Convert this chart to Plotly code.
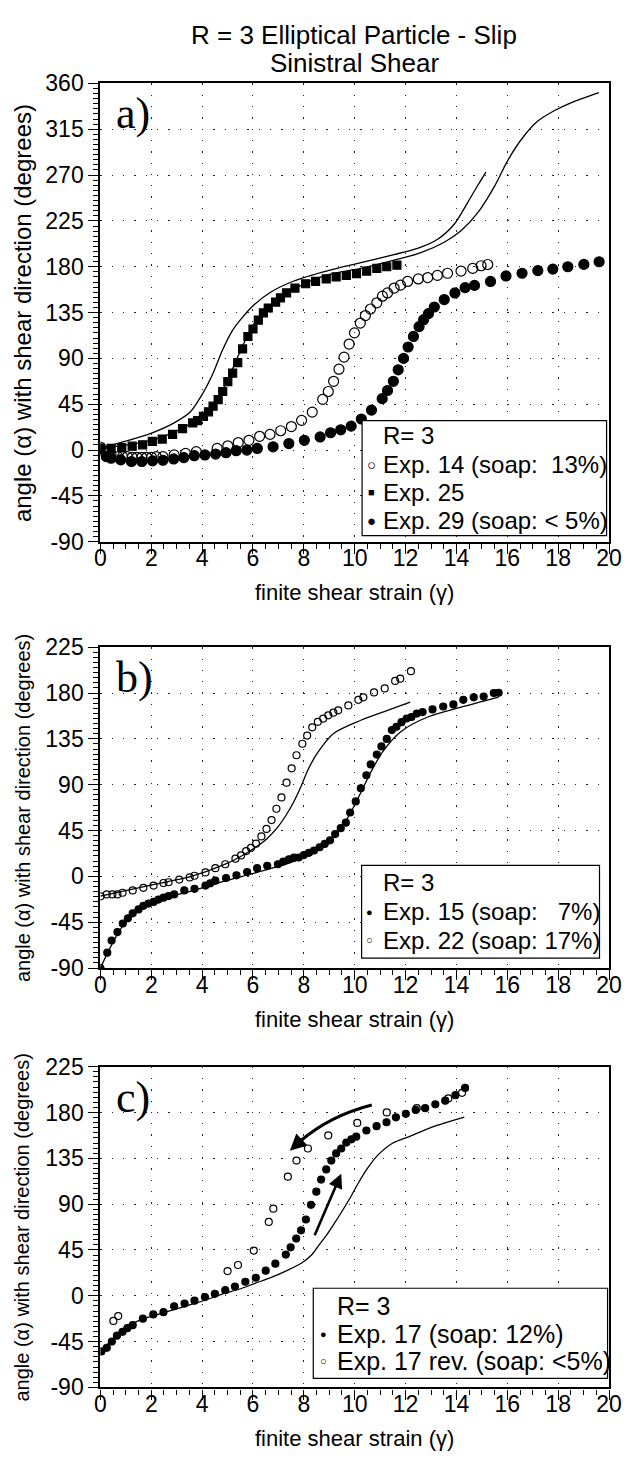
import plotly.graph_objects as go

W, H = 639, 1463

# ---------------- panel a: R = 3, sinistral shear ----------------
a_exp14_g = [0.0, 0.2, 0.42, 0.68, 0.87, 1.06, 1.25, 1.44, 1.63, 1.82, 2.01, 2.2, 2.46, 2.9, 3.35, 3.77,
             4.59, 5.01, 5.42, 5.84, 6.26, 6.67, 7.09, 7.51, 7.91, 8.33, 8.74, 8.96, 9.17, 9.38, 9.58,
             9.78, 9.99, 10.22, 10.42, 10.62, 10.87, 11.09, 11.29, 11.55, 11.8, 12.08, 12.5, 12.87,
             13.25, 13.65, 14.18, 14.64, 14.97, 15.23]
a_exp14_ang = [3, -3, -4.8, -6.4, -6.4, -6.4, -7.1, -7.1, -7.1, -7.1, -7.1, -6.4, -6.4, -4.8, -3.2, -1.6,
               1.6, 4.2, 7.4, 9.6, 13.5, 15.4, 19.0, 23.1, 29.2, 37.3, 49.8, 57.5, 67.5, 79.4, 91.3,
               104.1, 115.1, 124.7, 132.1, 138.5, 144.6, 151.1, 154.3, 159.1, 162, 165.6, 168, 169.4,
               171.5, 173.6, 175.8, 178.4, 181, 182.2]

a_exp25_g = [0.0, 0.42, 0.84, 1.25, 1.66, 2.04, 2.43, 2.84, 3.23, 3.63, 3.82, 4.05, 4.25, 4.43, 4.63,
             4.81, 5.01, 5.2, 5.4, 5.59, 5.8, 6.0, 6.21, 6.41, 6.6, 6.89, 7.08, 7.32, 7.65, 8.07, 8.46,
             8.88, 9.27, 9.67, 10.07, 10.47, 10.87, 11.26, 11.66]
a_exp25_ang = [1.0, 1.6, 2.4, 3.8, 5.2, 8.5, 10.8, 15.4, 21.0, 26.7, 28.9, 33.1, 37.6, 43.1, 49.5,
               57.5, 67.2, 75.5, 85.8, 99.3, 111.5, 118.9, 127.6, 134.7, 139.5, 145.3, 149.5, 154.3,
               159.1, 163.3, 165.6, 168.1, 170, 171.4, 173.3, 175.8, 178.4, 180, 181.6]

a_exp29_g = [0.0, 0.23, 0.42, 0.8, 1.22, 1.63, 2.05, 2.46, 2.88, 3.28, 3.69, 4.11, 4.53, 4.94, 5.34,
             5.76, 6.17, 6.79, 7.41, 8.02, 8.64, 9.05, 9.45, 9.86, 10.26, 10.66, 11.08, 11.29, 11.52,
             11.71, 11.92, 12.1, 12.31, 12.53, 12.71, 12.9, 13.13, 13.52, 13.94, 14.34, 14.71, 15.34,
             15.95, 16.58, 17.2, 17.79, 18.38, 19.01, 19.61]
a_exp29_ang = [1.5, -6.4, -8.0, -9.6, -11.2, -11.2, -10.6, -10.0, -8.7, -7.4, -5.5, -4.8, -3.9, -2.6,
               -0.6, 0.0, 1.6, 3.2, 6.4, 9.6, 12.9, 17.0, 19.9, 23.5, 30.5, 39.2, 50.5, 58.5, 67.5,
               78.8, 90.0, 101.2, 111.6, 121.2, 128.0, 134.0, 140.5, 147.8, 154.3, 159.5, 161.7, 165.6,
               171.0, 173.6, 176.2, 177.7, 180.0, 182.3, 184.9]

a_model1_g = [0, 0.99, 2.01, 2.9, 3.54, 3.98, 4.43, 4.81, 5.19, 5.51, 5.97, 6.69, 7.61, 8.92, 10.24,
              11.55, 12.47, 13.26, 13.92, 14.44, 14.84, 15.16]
a_model1_ang = [2, 8.7, 16.7, 26.7, 37.6, 53.7, 75.5, 98.7, 117.3, 128, 141, 155, 166, 176, 184, 192,
                198, 207, 222, 243, 260, 273]

a_model2_g = [0, 0.99, 2.01, 2.9, 3.54, 4.05, 4.43, 4.75, 5.06, 5.32, 5.57, 5.83, 6.08, 6.4, 6.65, 7.61,
              8.92, 10.24, 11.55, 12.6, 13.52, 14.18, 14.84, 15.49, 16.02, 16.61, 17.2, 17.86, 18.5, 19.6]
a_model2_ang = [1.6, 4.8, 9.6, 17.7, 25.7, 34.4, 43.4, 56.2, 72.3, 86.8, 101.2, 114.1, 125.3, 135.0,
                141, 158, 171.9, 178.4, 186.4, 193.8, 204.1, 215.3, 233.1, 258.7, 284.5, 306.9, 323,
                333.4, 341, 351]

# ---------------- panel b ----------------
b_exp15_g = [0.0, 0.27, 0.44, 0.67, 0.88, 1.08, 1.27, 1.5, 1.69, 1.89, 2.09, 2.28, 2.48, 2.68, 2.9, 3.3,
             3.7, 4.13, 4.32, 4.52, 4.94, 5.35, 5.77, 6.16, 6.56, 6.98, 7.19, 7.41, 7.61, 7.8, 8.0, 8.2,
             8.4, 8.62, 8.82, 9.03, 9.23, 9.45, 9.65, 9.82, 10.04, 10.24, 10.46, 10.63, 10.87, 11.05,
             11.26, 11.46, 11.64, 11.84, 12.04, 12.23, 12.44, 12.67, 13.06, 13.48, 13.88, 14.27, 14.68,
             15.07, 15.47, 15.66]
b_exp15_ang = [-90, -74.9, -63, -54.7, -46.3, -41.2, -36.3, -32.5, -28.9, -26.7, -25.1, -22.8, -20.9,
               -19.3, -17.7, -13.8, -12.2, -9.0, -6.8, -4.2, -1.6, 1.0, 4.2, 8.0, 10.3, 11.9, 14.5,
               16.7, 18.3, 18.5, 20.9, 23.1, 25.4, 28.6, 31.8, 35.4, 41.5, 47.3, 52.7, 62.7, 73.6, 86.5,
               99.3, 109.9, 119.6, 127.6, 135, 143.7, 146.9, 151.4, 155, 156.5, 159.8, 161.3, 163.9,
               166.8, 168.8, 173.3, 175.8, 176.5, 180, 180.3]

b_exp22_g = [0.01, 0.25, 0.47, 0.67, 0.87, 1.27, 1.69, 2.09, 2.48, 2.68, 3.1, 3.51, 3.7, 4.13, 4.52,
             4.91, 5.31, 5.53, 5.73, 5.92, 6.12, 6.33, 6.53, 6.73, 6.92, 7.12, 7.32, 7.52, 7.71, 7.94,
             8.13, 8.33, 8.55, 8.76, 8.96, 9.16, 9.35, 9.75, 10.14, 10.34, 10.76, 11.18, 11.59, 11.79,
             12.21]
b_exp22_ang = [-19.6, -17.7, -17.7, -17.7, -16.1, -13.8, -11.3, -9.0, -6.5, -5.8, -3.2, -1.0, 0.6, 3.9,
               8.0, 11.9, 17.4, 20.6, 24.8, 28, 32.1, 39.2, 46.6, 55.3, 66.4, 77.5, 92, 106.1, 118.9,
               130.2, 138.2, 146.3, 151.7, 154.9, 158.1, 160.7, 163, 167.8, 173.3, 175.8, 180.6, 184.5,
               191.9, 194.1, 201.5]

b_model1_g = [0, 0.9, 2.21, 3.53, 4.84, 5.5, 6.16, 6.55, 6.94, 7.3, 7.6, 7.9, 8.15, 8.53, 9.18, 10.24,
              11.29, 12.18]
b_model1_ang = [-19.3, -14.5, -7.4, -0.3, 11.3, 19.3, 29.6, 37, 47.3, 60, 73, 89, 104, 121, 140.5,
                153.3, 163, 171]

b_model2_g = [0, 0.35, 0.7, 1.06, 1.58, 2.21, 3.53, 4.84, 6.16, 7.47, 8.26, 8.79, 9.31, 9.71, 10.1,
              10.37, 10.69, 11.16, 11.81, 12.87, 14.18, 15.66]
b_model2_ang = [-90, -71.7, -55.6, -42.7, -31.5, -23.5, -14.8, -4.8, 3.9, 13.5, 21.5, 29.6, 44.1, 57,
                75, 89, 105.1, 124.4, 142.1, 156.5, 166.1, 176]

# ---------------- panel c ----------------
c_exp17_g = [0.04, 0.25, 0.45, 0.65, 0.87, 1.06, 1.27, 1.67, 2.08, 2.48, 2.9, 3.31, 3.7, 4.11, 4.5,
             4.91, 5.29, 5.7, 6.11, 6.5, 6.88, 7.29, 7.48, 7.7, 7.89, 8.08, 8.28, 8.49, 8.68, 8.88,
             9.08, 9.27, 9.47, 9.67, 9.87, 10.06, 10.46, 10.86, 11.25, 11.62, 12.01, 12.4, 12.77,
             13.17, 13.56, 13.96, 14.34]
c_exp17_ang = [-54.6, -51.1, -45, -39.2, -35.4, -31.8, -28.9, -22.5, -18.3, -16.1, -10.3, -7.7, -4.8,
               -1.3, 1.9, 5.5, 9.0, 13.8, 17.7, 24.7, 31.5, 40.5, 47.6, 56.2, 64.3, 74.9, 89.3, 102.2,
               114.1, 124.1, 132.8, 139.8, 144.6, 150.4, 153.6, 156.2, 162.3, 166.5, 170.4, 175.2,
               178.7, 182.5, 184.2, 188, 191.6, 197, 204.1]

c_exp17rev_g = [0.51, 0.7, 5.0, 5.41, 6.03, 6.62, 6.8, 7.37, 7.71, 8.16, 8.96, 10.1, 11.26, 12.44,
                13.68, 14.22]
c_exp17rev_ang = [-24.7, -19.9, 24.3, 30.2, 44.4, 72.5, 85.5, 117, 132.8, 144.6, 157.5, 169.7, 180,
                  184.2, 193.8, 199.3]

c_model_g = [0.04, 0.36, 0.99, 1.63, 2.27, 2.9, 3.54, 4.17, 4.81, 5.45, 6.08, 6.72, 7.35, 7.9, 8.3,
             8.6, 8.92, 9.25, 9.55, 9.84, 10.15, 10.5, 10.89, 11.5, 12.21, 13.2, 14.31]
c_model_ang = [-54.6, -45.6, -31.2, -23.1, -18.3, -13.5, -8.7, -3.9, 1.9, 6.4, 12.2, 18, 25, 32, 40,
               50, 60.5, 73, 85, 97, 111, 125, 137.6, 150, 157, 167, 175.5]

# direction arrows in panel c (tail -> head, data units)
c_arrow_fwd = [(8.40, 57.9), (9.47, 119.9)]
c_arrow_rev = [(10.67, 187.4), (8.74, 175.1), (7.45, 142.4)]   # tail, bend, head

x_ticks = list(range(0, 21, 2))
ya_ticks = list(range(-90, 361, 45))
ybc_ticks = list(range(-90, 226, 45))

# ---------------- layout helpers ----------------
SANS = "Liberation Sans, Arial, Helvetica, sans-serif"
SERIF = "Liberation Serif, Times New Roman, serif"

def fx(p):
    return p / W

def fy(p):
    return 1 - p / H

X_LEFT, X_RIGHT = 97.3, 621.5
PANELS = [
    dict(top=71.7, bottom=538.3, yrange=[-90, 360], yticks=ya_ticks, ytitle=24),
    dict(top=645.7, bottom=972.3, yrange=[-90, 225], yticks=ybc_ticks, ytitle=20),
    dict(top=1072.7, bottom=1399.3, yrange=[-90, 225], yticks=ybc_ticks, ytitle=20),
]

fig = go.Figure()

def axes_of(i):
    return ("x", "y") if i == 1 else (f"x{i}", f"y{i}")

def add_line(g, ang, i):
    xa, ya = axes_of(i)
    fig.add_trace(go.Scatter(x=g, y=ang, mode="lines", showlegend=False, hoverinfo="skip",
                             line=dict(color="black", width=1.3, shape="spline", smoothing=0.8),
                             xaxis=xa, yaxis=ya))

def add_pts(g, ang, i, symbol, size, name):
    xa, ya = axes_of(i)
    fig.add_trace(go.Scatter(x=g, y=ang, mode="markers", name=name, showlegend=False,
                             marker=dict(symbol=symbol, size=size, color="black",
                                         line=dict(color="black", width=1.2)),
                             xaxis=xa, yaxis=ya))

# panel a
add_line(a_model1_g, a_model1_ang, 1)
add_line(a_model2_g, a_model2_ang, 1)
add_pts(a_exp14_g, a_exp14_ang, 1, "circle-open", 10, "Exp. 14")
add_pts(a_exp25_g, a_exp25_ang, 1, "square", 8, "Exp. 25")
add_pts(a_exp29_g, a_exp29_ang, 1, "circle", 10, "Exp. 29")
# panel b
add_line(b_model1_g, b_model1_ang, 2)
add_line(b_model2_g, b_model2_ang, 2)
add_pts(b_exp15_g, b_exp15_ang, 2, "circle", 7, "Exp. 15")
add_pts(b_exp22_g, b_exp22_ang, 2, "circle-open", 7, "Exp. 22")
# panel c
add_line(c_model_g, c_model_ang, 3)
add_pts(c_exp17_g, c_exp17_ang, 3, "circle", 7, "Exp. 17")
add_pts(c_exp17rev_g, c_exp17rev_ang, 3, "circle-open", 7, "Exp. 17 rev.")

tick_font = dict(family=SANS, size=23, color="black")
layout = dict(width=W, height=H, margin=dict(l=0, r=0, t=0, b=0),
              paper_bgcolor="white", plot_bgcolor="white", showlegend=False)

common = dict(ticks="outside", ticklen=10, tickwidth=1.2, tickcolor="black", tickfont=tick_font,
              showline=True, linewidth=2.2, linecolor="black", mirror=True,
              showgrid=True, gridcolor="#222", gridwidth=1.2, griddash="1.3px,10px",
              zeroline=False, fixedrange=True, tickmode="array")

for i, p in enumerate(PANELS, start=1):
    sfx = "" if i == 1 else str(i)
    layout[f"xaxis{sfx}"] = dict(
        common, domain=[fx(X_LEFT), fx(X_RIGHT)], range=[0, 20], anchor=f"y{sfx}",
        tickvals=x_ticks, ticktext=[str(v) for v in x_ticks], ticklabelstandoff=-15,
        minor=dict(dtick=0.5, ticks="outside", ticklen=5, tickwidth=1, tickcolor="black", showgrid=False))
    layout[f"yaxis{sfx}"] = dict(
        common, domain=[fy(p["bottom"]), fy(p["top"])], range=p["yrange"], anchor=f"x{sfx}",
        tickvals=p["yticks"], ticktext=[str(v) for v in p["yticks"]],
        minor=dict(dtick=5, ticks="outside", ticklen=5, tickwidth=1, tickcolor="black", showgrid=False))

annotations = []
shapes = []

def text(xp, yp, s, size, family=SANS, xanchor="center", yanchor="middle", angle=0):
    annotations.append(dict(x=fx(xp), y=fy(yp), xref="paper", yref="paper", text=s,
                            showarrow=False, xanchor=xanchor, yanchor=yanchor, textangle=angle,
                            font=dict(family=family, size=size, color="black")))

# figure title
text(359, 22, "R = 3 Elliptical Particle - Slip", 26)
text(359, 51, "Sinistral Shear", 26)

# axis titles and panel letters
xc = (X_LEFT + X_RIGHT) / 2
for i, p in enumerate(PANELS):
    text(xc, p["bottom"] + 52, "finite shear strain (\u03b3)", 22)
    text(17, (p["top"] + p["bottom"]) / 2, "angle (\u03b1) with shear direction (degrees)",
         p["ytitle"], angle=-90)
    text(111, p["top"] + 31, "abc"[i] + ")", 44, family=SERIF, xanchor="left")

# legend boxes
NB = "\u00a0"
legends = [
    dict(box=(367, 415, 619, 532), sx=377, tx=387, size=24, rows=[
        (430, None, "R= 3"),
        (460, ("\u25cb", 15), f"Exp. 14 (soap:{NB}{NB}13%)"),
        (488, ("\u25a0", 11), "Exp. 25"),
        (517, ("\u25cf", 15), "Exp. 29 (soap: < 5%)"),
    ]),
    dict(box=(366.5, 867.7, 611.7, 962.3), sx=375, tx=387, size=24, rows=[
        (885, None, "R= 3"),
        (915, ("\u25cf", 11), f"Exp. 15 (soap:{NB}{NB}{NB}7%)"),
        (944, ("\u25cb", 11), "Exp. 22 (soap: 17%)"),
    ]),
    dict(box=(316.7, 1298.3, 620, 1390), sx=327, tx=339, size=25, rows=[
        (1316, None, "R= 3"),
        (1345, ("\u25cf", 11), "Exp. 17 (soap: 12%)"),
        (1372, ("\u25cb", 11), "Exp. 17 rev. (soap: <5%)"),
    ]),
]
for lg in legends:
    x0, y0, x1, y1 = lg["box"]
    shapes.append(dict(type="rect", xref="paper", yref="paper", x0=fx(x0), x1=fx(x1),
                       y0=fy(y1), y1=fy(y0), line=dict(color="black", width=1.2),
                       fillcolor="white", layer="above"))
    for yy, sym, label in lg["rows"]:
        text(lg["tx"], yy, label, lg["size"], xanchor="left")
        if sym is not None:
            text(lg["sx"], yy, sym[0], sym[1])

# arrows in panel c
(tx0, ty0), (tx1, ty1) = c_arrow_fwd
annotations.append(dict(x=tx1, y=ty1, ax=tx0, ay=ty0, xref="x3", yref="y3", axref="x3", ayref="y3",
                        text="", showarrow=True, arrowhead=2, arrowsize=1.1, arrowwidth=2.6,
                        arrowcolor="black", standoff=0))
(p0x, p0y), (cx, cy), (p2x, p2y) = c_arrow_rev
t = 0.85
q1x, q1y = p0x + t * (cx - p0x), p0y + t * (cy - p0y)
q2x = (1 - t) ** 2 * p0x + 2 * (1 - t) * t * cx + t ** 2 * p2x
q2y = (1 - t) ** 2 * p0y + 2 * (1 - t) * t * cy + t ** 2 * p2y
shapes.append(dict(type="path", xref="x3", yref="y3",
                   path=f"M {p0x},{p0y} Q {q1x},{q1y} {q2x},{q2y}",
                   line=dict(color="black", width=3)))
annotations.append(dict(x=p2x, y=p2y, ax=q2x, ay=q2y, xref="x3", yref="y3", axref="x3", ayref="y3",
                        text="", showarrow=True, arrowhead=2, arrowsize=1.1, arrowwidth=3,
                        arrowcolor="black", standoff=0))

layout["annotations"] = annotations
layout["shapes"] = shapes
fig.update_layout(**layout)
fig.write_html("out.html")
